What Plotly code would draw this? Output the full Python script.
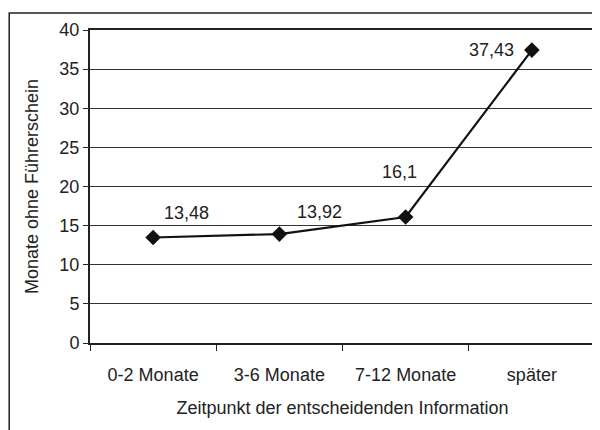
import plotly.graph_objects as go

kategorien = ["0-2 Monate", "3-6 Monate", "7-12 Monate", "später"]
monate = [13.48, 13.92, 16.1, 37.43]
beschriftung = ["13,48", "13,92", "16,1", "37,43"]
y_ticks = [0, 5, 10, 15, 20, 25, 30, 35, 40]

# manuell verschobene Datenbeschriftungen (wie im Original)
label_shift = [(33, 25), (40, 22), (-6, 45), (-40, 0)]

FONT = "Liberation Sans, Arial, sans-serif"

fig = go.Figure()
fig.add_trace(go.Scatter(
    x=kategorien,
    y=monate,
    mode="lines+markers",
    line=dict(color="#111111", width=2.2),
    marker=dict(symbol="diamond", size=12, color="#111111"),
    showlegend=False,
))

for k, v, txt, (dx, dy) in zip(kategorien, monate, beschriftung, label_shift):
    fig.add_annotation(
        x=k, y=v, text=txt, showarrow=False,
        xshift=dx, yshift=dy,
        font=dict(family=FONT, size=18, color="#222222"),
    )

# äußerer Rahmen des Diagramms
fig.add_shape(
    type="rect", xref="paper", yref="paper",
    x0=-0.16, x1=1.2, y0=-0.6, y1=1.054,
    line=dict(color="#222222", width=1.5), layer="below",
)

# Seite hat 8px Rand -> Figur etwas kleiner, Ränder angepasst
fig.update_layout(
    width=592,
    height=422,
    margin=dict(t=22, l=82, r=3, b=87),
    plot_bgcolor="white",
    paper_bgcolor="white",
    font=dict(family=FONT, size=18, color="#222222"),
    xaxis=dict(
        title=dict(text="Zeitpunkt der entscheidenden Information", standoff=18,
                   font=dict(size=18)),
        tickson="boundaries",
        ticks="outside",
        ticklen=6,
        ticklabelstandoff=14,
        tickcolor="#222222",
        showgrid=False,
        showline=True,
        linecolor="#222222",
        linewidth=2,
        mirror=True,
        range=[-0.5, 3.5],
    ),
    yaxis=dict(
        title=dict(text="Monate ohne Führerschein", standoff=16,
                   font=dict(size=18)),
        range=[0, 40],
        tickvals=y_ticks,
        ticks="outside",
        ticklen=5,
        tickcolor="#222222",
        showgrid=True,
        gridcolor="#333333",
        gridwidth=1,
        showline=True,
        linecolor="#222222",
        linewidth=2,
        mirror=True,
        zeroline=False,
    ),
)

fig.write_html("out.html")
